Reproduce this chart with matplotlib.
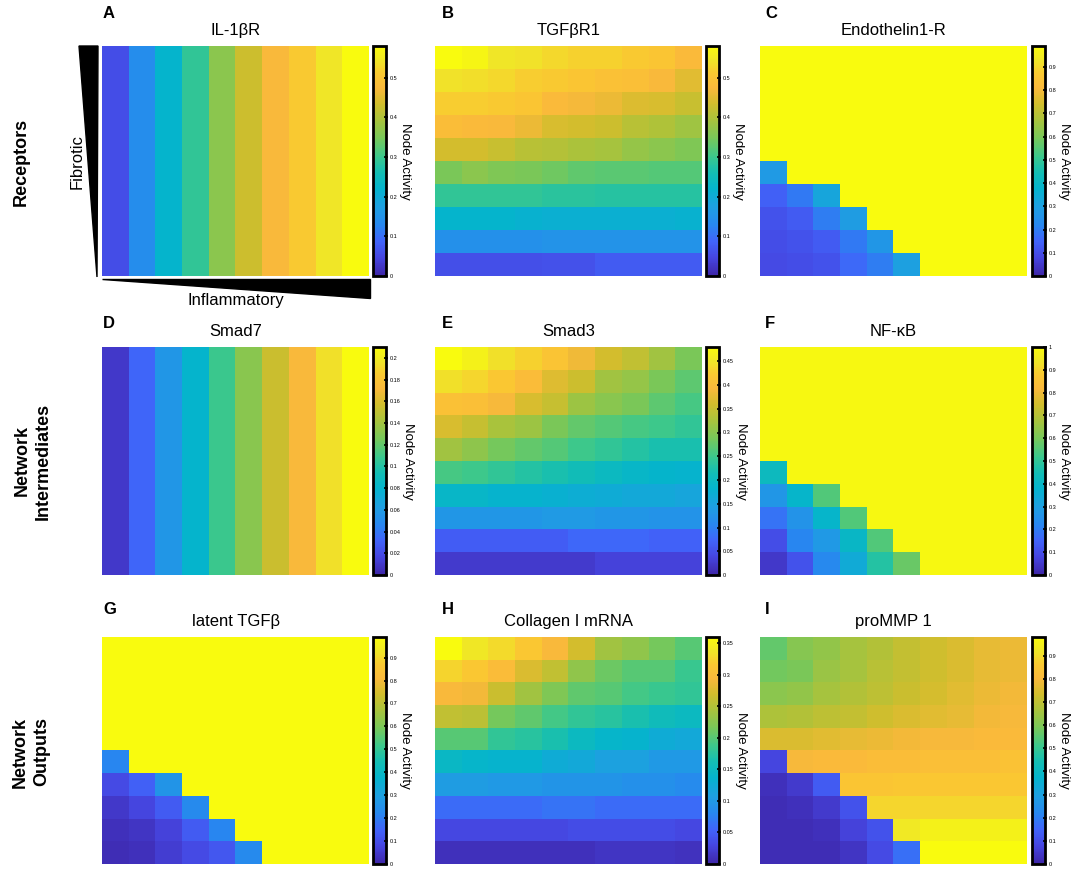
import numpy as np
import matplotlib
matplotlib.use("Agg")
import matplotlib.pyplot as plt
from matplotlib.colors import LinearSegmentedColormap
from matplotlib.patches import Polygon
from matplotlib.ticker import FuncFormatter

plt.rcParams['font.family'] = ['Liberation Sans', 'DejaVu Sans']

# ---- data (rows listed top -> bottom, columns left -> right) ----
il1br_cols = [0.058, 0.14, 0.22, 0.29, 0.365, 0.43, 0.475, 0.51, 0.545, 0.58]
smad7_cols = [0.01, 0.032, 0.057, 0.08, 0.109, 0.132, 0.155, 0.172, 0.195, 0.21]

tgfbr1 = [
    [0.58, 0.57, 0.545, 0.54, 0.53, 0.52, 0.52, 0.51, 0.505, 0.48],
    [0.54, 0.535, 0.53, 0.515, 0.51, 0.505, 0.495, 0.49, 0.475, 0.45],
    [0.515, 0.515, 0.51, 0.505, 0.48, 0.47, 0.46, 0.445, 0.44, 0.425],
    [0.485, 0.48, 0.475, 0.46, 0.44, 0.435, 0.43, 0.41, 0.40, 0.385],
    [0.435, 0.435, 0.425, 0.41, 0.405, 0.395, 0.39, 0.375, 0.365, 0.355],
    [0.35, 0.365, 0.355, 0.35, 0.34, 0.33, 0.325, 0.325, 0.32, 0.32],
    [0.29, 0.29, 0.29, 0.29, 0.285, 0.285, 0.28, 0.28, 0.28, 0.28],
    [0.22, 0.22, 0.22, 0.215, 0.21, 0.21, 0.21, 0.21, 0.21, 0.215],
    [0.145, 0.145, 0.145, 0.145, 0.15, 0.15, 0.15, 0.15, 0.15, 0.15],
    [0.06, 0.06, 0.06, 0.06, 0.062, 0.062, 0.075, 0.075, 0.075, 0.075],
]

endothelin = [
    [0.99] * 10,
    [0.99] * 10,
    [0.99] * 10,
    [0.99] * 10,
    [0.99] * 10,
    [0.28, 0.99, 0.99, 0.99, 0.99, 0.99, 0.99, 0.99, 0.99, 0.99],
    [0.14, 0.19, 0.32, 0.99, 0.99, 0.99, 0.99, 0.99, 0.99, 0.99],
    [0.11, 0.13, 0.20, 0.29, 0.99, 0.99, 0.99, 0.99, 0.99, 0.99],
    [0.10, 0.11, 0.13, 0.19, 0.27, 0.99, 0.99, 0.99, 0.99, 0.99],
    [0.09, 0.10, 0.11, 0.16, 0.20, 0.30, 0.99, 0.99, 0.99, 0.99],
]

smad3 = [
    [0.48, 0.465, 0.445, 0.43, 0.415, 0.385, 0.36, 0.345, 0.32, 0.29],
    [0.445, 0.435, 0.42, 0.40, 0.37, 0.355, 0.32, 0.31, 0.29, 0.27],
    [0.41, 0.405, 0.39, 0.365, 0.35, 0.315, 0.30, 0.29, 0.27, 0.255],
    [0.365, 0.35, 0.325, 0.315, 0.29, 0.275, 0.265, 0.255, 0.25, 0.24],
    [0.32, 0.305, 0.285, 0.275, 0.265, 0.25, 0.24, 0.23, 0.22, 0.22],
    [0.255, 0.25, 0.24, 0.23, 0.22, 0.21, 0.20, 0.19, 0.185, 0.18],
    [0.19, 0.19, 0.18, 0.18, 0.175, 0.17, 0.165, 0.16, 0.16, 0.155],
    [0.13, 0.13, 0.13, 0.13, 0.135, 0.135, 0.13, 0.13, 0.125, 0.125],
    [0.065, 0.065, 0.065, 0.065, 0.065, 0.075, 0.075, 0.075, 0.07, 0.07],
    [0.025, 0.025, 0.025, 0.025, 0.025, 0.025, 0.035, 0.035, 0.035, 0.035],
]

nfkb = [
    [0.99] * 10,
    [0.99] * 10,
    [0.99] * 10,
    [0.99] * 10,
    [0.99] * 10,
    [0.42, 0.99, 0.99, 0.99, 0.99, 0.99, 0.99, 0.99, 0.99, 0.99],
    [0.27, 0.39, 0.55, 0.99, 0.99, 0.99, 0.99, 0.99, 0.99, 0.99],
    [0.18, 0.26, 0.39, 0.55, 0.99, 0.99, 0.99, 0.99, 0.99, 0.99],
    [0.10, 0.22, 0.28, 0.40, 0.55, 0.99, 0.99, 0.99, 0.99, 0.99],
    [0.05, 0.11, 0.23, 0.34, 0.48, 0.58, 0.99, 0.99, 0.99, 0.99],
]

latent_tgfb = [
    [0.99] * 10,
    [0.99] * 10,
    [0.99] * 10,
    [0.99] * 10,
    [0.99] * 10,
    [0.22, 0.99, 0.99, 0.99, 0.99, 0.99, 0.99, 0.99, 0.99, 0.99],
    [0.09, 0.14, 0.26, 0.99, 0.99, 0.99, 0.99, 0.99, 0.99, 0.99],
    [0.05, 0.08, 0.13, 0.23, 0.99, 0.99, 0.99, 0.99, 0.99, 0.99],
    [0.03, 0.04, 0.07, 0.13, 0.22, 0.99, 0.99, 0.99, 0.99, 0.99],
    [0.02, 0.03, 0.06, 0.09, 0.12, 0.23, 0.99, 0.99, 0.99, 0.99],
]

collagen = [
    [0.36, 0.34, 0.33, 0.315, 0.295, 0.27, 0.24, 0.23, 0.215, 0.20],
    [0.325, 0.315, 0.30, 0.275, 0.26, 0.23, 0.21, 0.20, 0.20, 0.185],
    [0.295, 0.29, 0.265, 0.24, 0.22, 0.205, 0.20, 0.19, 0.185, 0.18],
    [0.26, 0.255, 0.215, 0.205, 0.19, 0.18, 0.175, 0.165, 0.155, 0.15],
    [0.20, 0.20, 0.18, 0.175, 0.165, 0.15, 0.14, 0.135, 0.125, 0.12],
    [0.145, 0.14, 0.135, 0.135, 0.125, 0.12, 0.11, 0.11, 0.10, 0.10],
    [0.105, 0.105, 0.10, 0.10, 0.095, 0.095, 0.095, 0.09, 0.09, 0.085],
    [0.06, 0.06, 0.06, 0.06, 0.065, 0.065, 0.06, 0.06, 0.06, 0.06],
    [0.03, 0.03, 0.03, 0.03, 0.03, 0.035, 0.035, 0.035, 0.035, 0.03],
    [0.01, 0.01, 0.01, 0.01, 0.01, 0.01, 0.015, 0.015, 0.015, 0.012],
]

prommp1 = [
    [0.56, 0.61, 0.63, 0.66, 0.68, 0.71, 0.73, 0.75, 0.77, 0.78],
    [0.58, 0.59, 0.64, 0.66, 0.69, 0.71, 0.73, 0.75, 0.77, 0.78],
    [0.62, 0.63, 0.66, 0.68, 0.70, 0.72, 0.74, 0.76, 0.78, 0.79],
    [0.67, 0.68, 0.70, 0.71, 0.73, 0.75, 0.76, 0.77, 0.79, 0.80],
    [0.75, 0.75, 0.76, 0.77, 0.78, 0.79, 0.80, 0.80, 0.81, 0.81],
    [0.08, 0.80, 0.81, 0.81, 0.82, 0.82, 0.83, 0.83, 0.83, 0.84],
    [0.03, 0.05, 0.13, 0.85, 0.85, 0.86, 0.86, 0.86, 0.86, 0.86],
    [0.02, 0.03, 0.05, 0.11, 0.89, 0.89, 0.89, 0.89, 0.89, 0.89],
    [0.02, 0.02, 0.03, 0.07, 0.11, 0.93, 0.95, 0.95, 0.95, 0.95],
    [0.02, 0.02, 0.02, 0.04, 0.09, 0.17, 0.98, 0.98, 0.98, 0.98],
]

titles = ["IL-1\u03b2R", "TGF\u03b2R1", "Endothelin1-R",
          "Smad7", "Smad3", "NF-\u03baB",
          "latent TGF\u03b2", "Collagen I mRNA", "proMMP 1"]
letters = ["A", "B", "C", "D", "E", "F", "G", "H", "I"]
vmaxes = [0.58, 0.58, 0.99, 0.21, 0.48, 1.0, 0.99, 0.36, 0.98]
cbar_ticks = [
    [0, 0.1, 0.2, 0.3, 0.4, 0.5],
    [0, 0.1, 0.2, 0.3, 0.4, 0.5],
    [0, 0.1, 0.2, 0.3, 0.4, 0.5, 0.6, 0.7, 0.8, 0.9],
    [0, 0.02, 0.04, 0.06, 0.08, 0.1, 0.12, 0.14, 0.16, 0.18, 0.2],
    [0, 0.05, 0.1, 0.15, 0.2, 0.25, 0.3, 0.35, 0.4, 0.45],
    [0, 0.1, 0.2, 0.3, 0.4, 0.5, 0.6, 0.7, 0.8, 0.9, 1.0],
    [0, 0.1, 0.2, 0.3, 0.4, 0.5, 0.6, 0.7, 0.8, 0.9],
    [0, 0.05, 0.1, 0.15, 0.2, 0.25, 0.3, 0.35],
    [0, 0.1, 0.2, 0.3, 0.4, 0.5, 0.6, 0.7, 0.8, 0.9],
]
row_labels = ["Receptors", "Network\nIntermediates", "Network\nOutputs"]

# parula-like colour map
parula = LinearSegmentedColormap.from_list("parula", [
    (0.00, (62 / 255, 38 / 255, 168 / 255)),
    (0.08, (70 / 255, 70 / 255, 225 / 255)),
    (0.15, (65 / 255, 100 / 255, 250 / 255)),
    (0.22, (40 / 255, 135 / 255, 240 / 255)),
    (0.30, (30 / 255, 160 / 255, 225 / 255)),
    (0.38, (5 / 255, 180 / 255, 205 / 255)),
    (0.45, (20 / 255, 190 / 255, 180 / 255)),
    (0.52, (60 / 255, 200 / 255, 140 / 255)),
    (0.60, (120 / 255, 200 / 255, 90 / 255)),
    (0.68, (170 / 255, 195 / 255, 60 / 255)),
    (0.75, (210 / 255, 190 / 255, 45 / 255)),
    (0.82, (250 / 255, 185 / 255, 60 / 255)),
    (0.88, (250 / 255, 200 / 255, 50 / 255)),
    (0.94, (240 / 255, 230 / 255, 40 / 255)),
    (1.00, (249 / 255, 251 / 255, 14 / 255)),
])

W, H = 1084, 883


def px_rect(x0, y0, x1, y1):
    return [x0 / W, 1 - y1 / H, (x1 - x0) / W, (y1 - y0) / H]


def px_pt(x, y):
    return (x / W, 1 - y / H)


def main():
    grids = [np.tile(il1br_cols, (10, 1)), tgfbr1, endothelin,
             np.tile(smad7_cols, (10, 1)), smad3, nfkb,
             latent_tgfb, collagen, prommp1]

    fig = plt.figure(figsize=(W / 100, H / 100), dpi=100)

    col_x = [(102, 369), (435, 702), (760, 1027)]
    cb_x = [(373, 386), (706, 719), (1032, 1045)]
    row_y = [(46, 276), (347, 575), (637, 864)]
    letter_y = [13, 323, 610]
    letter_x = [103, 442, 765]

    fmt = FuncFormatter(lambda v, p: f"{v:g}")

    for i in range(9):
        r, c = divmod(i, 3)
        x0, x1 = col_x[c]
        y0, y1 = row_y[r]
        ax = fig.add_axes(px_rect(x0, y0, x1, y1))
        im = ax.imshow(np.array(grids[i]), cmap=parula, vmin=0, vmax=vmaxes[i],
                       aspect='auto', interpolation='nearest')
        ax.axis('off')
        ax.set_title(titles[i], fontsize=12, pad=8)

        cx0, cx1 = cb_x[c]
        cax = fig.add_axes(px_rect(cx0, y0, cx1, y1))
        cb = fig.colorbar(im, cax=cax)
        cb.set_ticks(cbar_ticks[i])
        cb.ax.yaxis.set_major_formatter(fmt)
        cb.ax.tick_params(direction='inout', length=3, width=1.2, labelsize=4, pad=1)
        cb.outline.set_linewidth(2)
        cb.set_label("Node Activity", rotation=270, fontsize=9.5, labelpad=10)

        fig.text(*px_pt(letter_x[c], letter_y[r]), letters[i], fontsize=12,
                 fontweight='bold', ha='left', va='center')

    # row group labels
    fig.text(*px_pt(21, 162), row_labels[0], rotation=90, fontsize=13,
             fontweight='bold', ha='center', va='center')
    fig.text(*px_pt(33, 461), row_labels[1], rotation=90, fontsize=13,
             fontweight='bold', ha='center', va='center', linespacing=1.3)
    fig.text(*px_pt(31, 752), row_labels[2], rotation=90, fontsize=13,
             fontweight='bold', ha='center', va='center', linespacing=1.3)

    # axis wedges
    fig.text(*px_pt(77, 162), "Fibrotic", rotation=90, fontsize=12,
             ha='center', va='center')
    fig.text(*px_pt(236, 300), "Inflammatory", fontsize=12,
             ha='center', va='center')
    fig.patches.append(Polygon([px_pt(79, 46), px_pt(98, 46), px_pt(97, 277)],
                               closed=True, color='black',
                               transform=fig.transFigure, figure=fig))
    fig.patches.append(Polygon([px_pt(102, 279), px_pt(370, 279), px_pt(370, 298)],
                               closed=True, color='black',
                               transform=fig.transFigure, figure=fig))

    fig.savefig("out.png", dpi=100)


if __name__ == "__main__":
    main()
